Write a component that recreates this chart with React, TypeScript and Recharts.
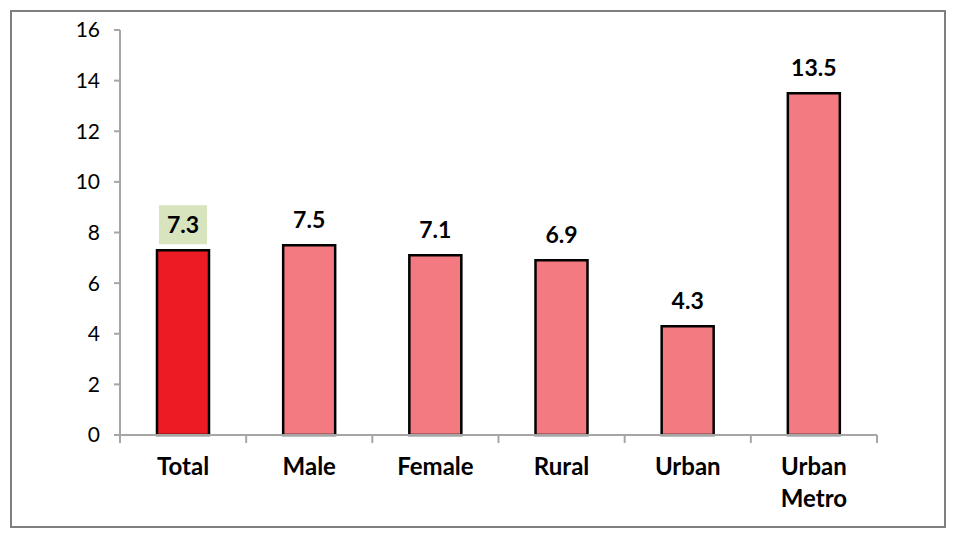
import React from 'react';
import { BarChart, Bar, XAxis, YAxis, LabelList, Cell } from 'recharts';

const categories = ['Total', 'Male', 'Female', 'Rural', 'Urban', 'Urban Metro'];
const values = [7.3, 7.5, 7.1, 6.9, 4.3, 13.5];
const yTicks = [0, 2, 4, 6, 8, 10, 12, 14, 16];

const FONT = "Lato, 'Open Sans', sans-serif";
const AXIS_GRAY = '#a6a6a6';

const data = categories.map((name, i) => ({ name, value: values[i] }));

// category ticks sit at the band edges, labels in the middle
const CategoryTick = (props: any) => {
  const { x, y, payload, index, visibleTicksCount } = props;
  const half = payload && payload.offset ? payload.offset : 63;
  const lines = String(payload.value).split(' ');
  const isLast = index === (visibleTicksCount || categories.length) - 1;
  return (
    <g>
      <line x1={x - half} x2={x - half} y1={y} y2={y + 8} stroke={AXIS_GRAY} strokeWidth={2} />
      {isLast && <line x1={x + half} x2={x + half} y1={y} y2={y + 8} stroke={AXIS_GRAY} strokeWidth={2} />}
      <text x={x} y={y + 40} textAnchor="middle" fontFamily={FONT} fontWeight={700} fontSize={24} fill="#000">
        {lines.map((ln, i) => (
          <tspan key={i} x={x} dy={i === 0 ? 0 : 32}>{ln}</tspan>
        ))}
      </text>
    </g>
  );
};

const ValueLabel = (props: any) => {
  const { x, y, width, value, index } = props;
  const cx = x + width / 2;
  return (
    <g>
      {index === 0 && <rect x={cx - 24} y={y - 45} width={48} height={39} fill="#d7e4bd" />}
      <text x={cx} y={y - 17} textAnchor="middle" fontFamily={FONT} fontWeight={700} fontSize={23} fill="#000">
        {value}
      </text>
    </g>
  );
};

export default function App() {
  return (
    <div style={{ position: 'absolute', left: 0, top: 0, width: 956, height: 539, background: '#fff' }}>
      <div
        style={{
          position: 'absolute',
          left: 10,
          top: 10,
          width: 932,
          height: 514,
          border: '2px solid #7f7f7f',
        }}
      />
      <div style={{ position: 'absolute', left: 0, top: 0 }}>
        <BarChart width={956} height={539} data={data} margin={{ top: 30, right: 79, left: 60, bottom: 0 }}>
          <YAxis
            domain={[0, 16]}
            ticks={yTicks}
            interval={0}
            width={60}
            tickSize={6}
            tickMargin={14}
            axisLine={{ stroke: AXIS_GRAY, strokeWidth: 2 }}
            tickLine={{ stroke: AXIS_GRAY, strokeWidth: 2 }}
            tick={{ fontFamily: FONT, fontSize: 21, fill: '#000' }}
          />
          <Bar dataKey="value" barSize={52} stroke="#000" strokeWidth={2.5} isAnimationActive={false}>
            {data.map((d, i) => (
              <Cell key={d.name} fill={i === 0 ? '#ed1c24' : '#f27a80'} />
            ))}
            <LabelList dataKey="value" content={ValueLabel} />
          </Bar>
          <XAxis
            dataKey="name"
            height={104}
            interval={0}
            tickSize={0}
            tickMargin={0}
            tickLine={false}
            axisLine={{ stroke: AXIS_GRAY, strokeWidth: 2 }}
            tick={<CategoryTick />}
          />
        </BarChart>
      </div>
    </div>
  );
}
